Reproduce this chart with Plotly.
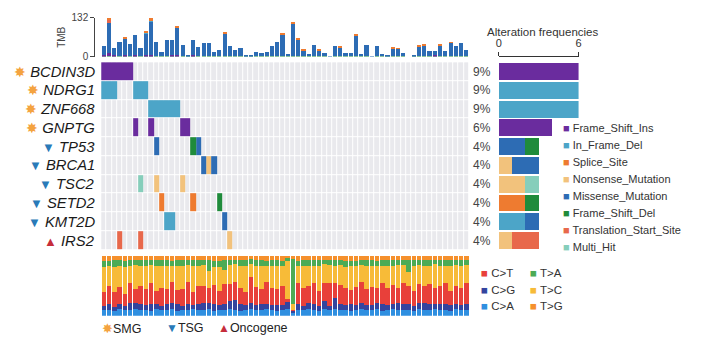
import plotly.graph_objects as go

W, H = 706, 343
FONT = "Liberation Sans, Arial, Helvetica, sans-serif"


def px(v):
    return v / W


def py(v):
    return 1 - v / H


# ---------------- data ----------------
genes = ["BCDIN3D", "NDRG1", "ZNF668", "GNPTG", "TP53",
         "BRCA1", "TSC2", "SETD2", "KMT2D", "IRS2"]
gene_class = ["SMG", "SMG", "SMG", "SMG", "TSG",
              "TSG", "TSG", "TSG", "TSG", "Oncogene"]
n_samples = 70

mut_types = ["Frame_Shift_Ins", "In_Frame_Del", "Splice_Site", "Nonsense_Mutation",
             "Missense_Mutation", "Frame_Shift_Del", "Translation_Start_Site", "Multi_Hit"]
mut_colors = ["#6a2c9e", "#4ca5c8", "#ee7b30", "#f2c27c",
              "#2d6cb4", "#1f8b3b", "#e8684b", "#86cebb"]

# one entry per mutated cell: gene, sample index, variant class
mut_gene = (["BCDIN3D"] * 6 + ["NDRG1"] * 6 + ["ZNF668"] * 6 + ["GNPTG"] * 4 +
            ["TP53"] * 3 + ["BRCA1"] * 3 + ["TSC2"] * 3 + ["SETD2"] * 3 +
            ["KMT2D"] * 3 + ["IRS2"] * 3)
mut_sample = ([0, 1, 2, 3, 4, 5] + [0, 1, 2, 6, 7, 8] + [9, 10, 11, 12, 13, 14] +
              [6, 9, 15, 16] + [10, 17, 18] + [19, 20, 21] + [7, 10, 15] +
              [11, 17, 22] + [12, 13, 23] + [3, 7, 24])
mut_type = (["Frame_Shift_Ins"] * 6 + ["In_Frame_Del"] * 6 + ["In_Frame_Del"] * 6 +
            ["Frame_Shift_Ins"] * 4 +
            ["Missense_Mutation", "Frame_Shift_Del", "Missense_Mutation"] +
            ["Missense_Mutation", "Nonsense_Mutation", "Missense_Mutation"] +
            ["Multi_Hit", "Nonsense_Mutation", "Nonsense_Mutation"] +
            ["Splice_Site", "Splice_Site", "Frame_Shift_Del"] +
            ["In_Frame_Del", "In_Frame_Del", "Missense_Mutation"] +
            ["Translation_Start_Site", "Translation_Start_Site", "Nonsense_Mutation"])

# tumour mutation burden per sample, split by variant class
tmb_fs_del = [2, 2, 2, 2, 2, 2, 2, 2, 2, 2, 2, 2, 2, 2, 2, 2, 2, 2, 2, 2,
              2, 2, 2, 2, 2, 2, 2, 2, 2, 2, 2, 2, 2, 2, 2, 3, 2, 3, 2, 2,
              2, 2, 2, 0, 2, 2, 2, 2, 2, 2, 2, 0, 2, 2, 2, 2, 2, 2, 0, 2,
              2, 2, 2, 2, 2, 2, 2, 2, 2, 2]
tmb_fs_ins = [4, 12, 3, 0, 3, 0, 3, 0, 4, 3, 0, 0, 0, 2, 3, 0, 0, 2, 0, 0,
              0, 0, 0, 0, 0, 0, 0, 0, 0, 0, 0, 0, 0, 0, 0, 0, 0, 0, 0, 0,
              0, 0, 0, 0, 0, 0, 0, 0, 0, 0, 0, 0, 0, 0, 0, 0, 0, 0, 0, 0,
              0, 0, 0, 3, 0, 0, 0, 0, 0, 0]
tmb_missense = [30, 102, 26, 48, 58, 40, 68, 27, 72, 114, 48, 15, 54, 52, 93, 38, 5, 52, 32, 43,
                46, 15, 21, 77, 35, 21, 27, 5, 5, 13, 10, 15, 35, 48, 73, 4, 111, 57, 19, 7,
                38, 19, 10, 1, 34, 30, 10, 12, 71, 7, 38, 1, 35, 7, 5, 27, 25, 12, 0, 5,
                33, 36, 18, 15, 37, 18, 46, 35, 43, 21]
tmb_in_frame = [0, 0, 0, 0, 0, 0, 0, 0, 3, 4, 0, 0, 0, 0, 0, 0, 0, 0, 0, 0,
                0, 0, 0, 0, 0, 0, 0, 0, 0, 0, 0, 0, 0, 0, 0, 0, 0, 0, 0, 0,
                0, 0, 0, 0, 0, 0, 0, 0, 0, 0, 0, 0, 0, 0, 0, 0, 0, 0, 0, 0,
                0, 0, 0, 0, 0, 0, 0, 0, 0, 0]
tmb_tss = [0, 10, 0, 0, 0, 0, 0, 0, 3, 0, 0, 0, 0, 0, 0, 0, 0, 0, 0, 0,
           0, 0, 0, 0, 0, 0, 0, 0, 0, 0, 0, 0, 0, 0, 0, 0, 0, 0, 0, 0,
           0, 0, 0, 0, 0, 0, 0, 0, 0, 0, 0, 0, 0, 0, 0, 0, 0, 0, 0, 0,
           0, 0, 0, 0, 0, 0, 0, 0, 0, 0]
tmb_splice = [0, 5, 0, 0, 2, 0, 0, 0, 4, 7, 0, 0, 0, 0, 5, 0, 0, 0, 0, 0,
              0, 0, 0, 4, 0, 0, 0, 0, 0, 0, 0, 0, 0, 0, 3, 0, 6, 2, 2, 0,
              0, 2, 0, 0, 0, 2, 0, 0, 2, 0, 0, 0, 0, 0, 0, 2, 2, 0, 0, 0,
              2, 2, 0, 0, 1, 0, 2, 0, 0, 0]

# transition / transversion fractions per sample
titv_classes = ["C>A", "C>G", "C>T", "T>C", "T>A", "T>G"]
titv_colors = ["#2f8fe0", "#34449e", "#e8403a", "#f7bb38", "#4cab55", "#f5902c"]
titv_ca = [9, 10, 8, 11, 9, 10, 12, 9, 10, 8, 11, 9, 10, 12, 8, 9, 10, 11, 9, 10,
           12, 8, 10, 9, 11, 10, 8, 9, 12, 10, 9, 11, 10, 8, 9, 12, 5, 10, 9, 11,
           10, 8, 12, 9, 11, 10, 9, 8, 10, 11, 9, 10, 12, 8, 9, 11, 10, 9, 10, 8,
           11, 9, 10, 12, 9, 10, 8, 11, 9, 10]
titv_cg = [8, 10, 7, 9, 8, 11, 9, 10, 8, 12, 9, 8, 10, 9, 11, 8, 9, 7, 10, 12,
           9, 11, 8, 10, 14, 16, 12, 9, 10, 8, 11, 9, 8, 10, 9, 12, 3, 9, 8, 11,
           10, 9, 12, 8, 18, 10, 9, 11, 8, 10, 9, 8, 10, 12, 9, 8, 11, 10, 9, 8,
           10, 12, 9, 8, 11, 9, 10, 8, 9, 10]
titv_ct = [22, 30, 25, 28, 20, 33, 24, 30, 26, 35, 22, 30, 25, 36, 24, 28, 38, 22, 30, 27,
           26, 32, 24, 34, 28, 30, 26, 22, 45, 30, 24, 36, 28, 26, 32, 5, 2, 35, 30, 28,
           34, 24, 30, 38, 26, 32, 28, 24, 30, 36, 26, 30, 24, 34, 28, 32, 26, 36, 30, 24,
           32, 28, 34, 26, 30, 36, 24, 30, 28, 34]
titv_tc = [43, 34, 42, 36, 45, 30, 40, 35, 40, 30, 42, 37, 38, 27, 41, 38, 28, 44, 34, 36,
           28, 30, 40, 24, 32, 30, 38, 44, 22, 36, 40, 28, 38, 40, 34, 65, 10, 30, 37, 34,
           30, 42, 32, 30, 29, 33, 36, 40, 36, 28, 40, 36, 38, 30, 37, 33, 38, 30, 25, 42,
           32, 35, 31, 40, 34, 29, 42, 36, 38, 31]
titv_ta = [10, 8, 11, 9, 10, 9, 8, 10, 9, 8, 9, 9, 10, 8, 9, 10, 8, 9, 10, 8,
           18, 11, 10, 16, 8, 7, 9, 10, 8, 9, 9, 8, 9, 9, 8, 5, 75, 8, 9, 9,
           9, 10, 8, 8, 9, 8, 10, 9, 8, 9, 10, 9, 8, 9, 10, 9, 8, 8, 20, 9,
           8, 9, 9, 8, 9, 9, 9, 8, 9, 8]
titv_tg = [8, 8, 7, 7, 8, 7, 7, 6, 7, 7, 7, 7, 7, 8, 7, 7, 7, 7, 7, 7,
           7, 8, 8, 7, 7, 7, 7, 6, 5, 7, 7, 8, 7, 7, 8, 3, 5, 8, 7, 7,
           7, 7, 6, 7, 7, 7, 8, 8, 8, 6, 6, 7, 8, 7, 7, 7, 7, 7, 6, 7,
           7, 7, 7, 6, 7, 7, 7, 7, 7, 7]

class_icon = {"SMG": ("\u2738", "#f4a340"), "TSG": ("\u25bc", "#2a7ab8"),
              "Oncogene": ("\u25b2", "#c62d3b")}

# ---------------- geometry (paper fractions) ----------------
mx_dom = [px(99), px(470)]
mat_ydom = [py(252), py(58)]
tmb_ydom = [py(52.3), py(12.3)]
titv_ydom = [py(320), py(258.3)]
freq_xdom = [px(500), px(580.5)]

samples = list(range(n_samples))
rows = list(range(len(genes)))

fig = go.Figure()

# matrix background cells
fig.add_trace(go.Heatmap(
    z=[[0] * n_samples for _ in genes], x=samples, y=rows,
    colorscale=[[0, "#e9e9ed"], [1, "#e9e9ed"]], showscale=False,
    xgap=1, ygap=1, hoverinfo="skip", xaxis="x", yaxis="y"))

# mutated cells, one layer per variant class
for t, c in zip(mut_types, mut_colors):
    z = [[None] * n_samples for _ in genes]
    for g, s, mt in zip(mut_gene, mut_sample, mut_type):
        if mt == t:
            z[genes.index(g)][s] = 1
    fig.add_trace(go.Heatmap(
        z=z, x=samples, y=rows, zmin=0, zmax=1,
        colorscale=[[0, c], [1, c]], showscale=False, ygap=1,
        name=t, xaxis="x", yaxis="y"))

# TMB stacked bars on top
color_of = dict(zip(mut_types, mut_colors))
tmb_layers = [("Frame_Shift_Del", tmb_fs_del), ("Frame_Shift_Ins", tmb_fs_ins),
              ("Missense_Mutation", tmb_missense), ("In_Frame_Del", tmb_in_frame),
              ("Translation_Start_Site", tmb_tss), ("Splice_Site", tmb_splice)]
for name, vals in tmb_layers:
    fig.add_trace(go.Bar(x=samples, y=vals, width=0.8, marker_color=color_of[name],
                         marker_line_width=0, name=name, showlegend=False,
                         xaxis="x2", yaxis="y2"))

# alteration frequency bars per gene
for t, c in zip(mut_types, mut_colors):
    counts = [sum(1 for g, mt in zip(mut_gene, mut_type) if g == gene and mt == t)
              for gene in genes]
    fig.add_trace(go.Bar(y=rows, x=counts, orientation="h", width=0.9,
                         marker_color=c, marker_line_width=0, name=t,
                         showlegend=False, xaxis="x3", yaxis="y3"))

# Ti/Tv fractions at the bottom
titv_vals = [titv_ca, titv_cg, titv_ct, titv_tc, titv_ta, titv_tg]
totals = [sum(v[i] for v in titv_vals) for i in samples]
for name, c, vals in zip(titv_classes, titv_colors, titv_vals):
    fig.add_trace(go.Bar(x=samples, y=[v / tt for v, tt in zip(vals, totals)],
                         width=0.86, marker_color=c, marker_line_width=0,
                         name=name, showlegend=False, xaxis="x4", yaxis="y4"))

ann = []

# gene labels with class icons
for i, (g, cl) in enumerate(zip(genes, gene_class)):
    icon, icol = class_icon[cl]
    isize = 14 if cl == "SMG" else 13
    ann.append(dict(
        x=px(95), xref="paper", y=i, yref="y", xanchor="right", yanchor="middle",
        text=f'<span style="color:{icol};font-size:{isize}px">{icon}</span> <i>{g}</i>',
        showarrow=False, font=dict(size=14.8, color="#1a1a1a", family=FONT)))

# percentage of samples altered
for i, g in enumerate(genes):
    n = sum(1 for mg in mut_gene if mg == g)
    ann.append(dict(
        x=px(494), xref="paper", y=i, yref="y", xanchor="right", yanchor="middle",
        text=f"{round(100 * n / n_samples)}%", showarrow=False,
        font=dict(size=12, color="#444", family=FONT)))

ann.append(dict(x=px(544), y=py(27), xref="paper", yref="paper", showarrow=False,
                text="Alteration frequencies", xanchor="center", yanchor="middle",
                font=dict(size=11.5, color="#333", family=FONT)))

# variant class legend
for k, (t, c) in enumerate(zip(mut_types, mut_colors)):
    ann.append(dict(
        x=px(563), y=py(126 + k * 17.6), xref="paper", yref="paper",
        xanchor="left", yanchor="middle", showarrow=False,
        text=f'<span style="color:{c}">\u25a0</span> {t}',
        font=dict(size=11, color="#333", family=FONT)))

# Ti/Tv legend
titv_leg = [("C>T", 0, 0), ("T>A", 1, 0), ("C>G", 0, 1), ("T>C", 1, 1),
            ("C>A", 0, 2), ("T>G", 1, 2)]
titv_col = dict(zip(titv_classes, titv_colors))
for name, col, row in titv_leg:
    ann.append(dict(
        x=px(480 + col * 49), y=py(275.7 + row * 17.2), xref="paper", yref="paper",
        xanchor="left", yanchor="middle", showarrow=False,
        text=f'<span style="color:{titv_col[name]}">\u25a0</span> {name.replace(">", "&gt;")}',
        font=dict(size=11.5, color="#333", family=FONT)))

# gene class legend
for label, x0 in [("SMG", 98), ("TSG", 162), ("Oncogene", 215)]:
    icon, icol = class_icon[label]
    isize = 13 if label == "SMG" else 12
    ann.append(dict(
        x=px(x0), y=py(333), xref="paper", yref="paper", xanchor="left",
        yanchor="middle", showarrow=False,
        text=f'<span style="color:{icol};font-size:{isize}px">{icon}</span>{label}',
        font=dict(size=12.5, color="#222", family=FONT)))

hidden = dict(visible=False, showgrid=False, zeroline=False)
fig.update_layout(
    width=W, height=H, margin=dict(l=0, r=0, t=0, b=0),
    paper_bgcolor="white", plot_bgcolor="white",
    barmode="stack", showlegend=False,
    font=dict(family=FONT, color="#333"),
    xaxis=dict(domain=mx_dom, range=[-0.5, n_samples - 0.5], anchor="y", **hidden),
    yaxis=dict(domain=mat_ydom, range=[len(genes) - 0.5, -0.5], anchor="x", **hidden),
    xaxis2=dict(domain=mx_dom, range=[-0.5, n_samples - 0.5], anchor="y2", **hidden),
    yaxis2=dict(domain=tmb_ydom, range=[0, 132], anchor="free", position=px(92),
                tickvals=[0, 132], ticks="outside", ticklen=4, tickcolor="#444",
                showline=True, linecolor="#444", linewidth=1, showgrid=False,
                zeroline=False, tickfont=dict(size=10, color="#444"),
                title=dict(text="TMB", font=dict(size=10, color="#444"), standoff=3)),
    xaxis3=dict(domain=freq_xdom, range=[0, 6], side="top", anchor="free",
                position=py(51.5), tickvals=[0, 6], ticks="outside", ticklen=4,
                tickcolor="#333", showline=True, linecolor="#333", linewidth=1,
                showgrid=False, zeroline=False, tickfont=dict(size=11, color="#333")),
    yaxis3=dict(domain=mat_ydom, range=[len(genes) - 0.5, -0.5], anchor="x3", **hidden),
    xaxis4=dict(domain=mx_dom, range=[-0.5, n_samples - 0.5], anchor="y4", **hidden),
    yaxis4=dict(domain=titv_ydom, range=[0, 1], anchor="x4", **hidden),
    annotations=ann,
)

fig.write_html("out.html")
